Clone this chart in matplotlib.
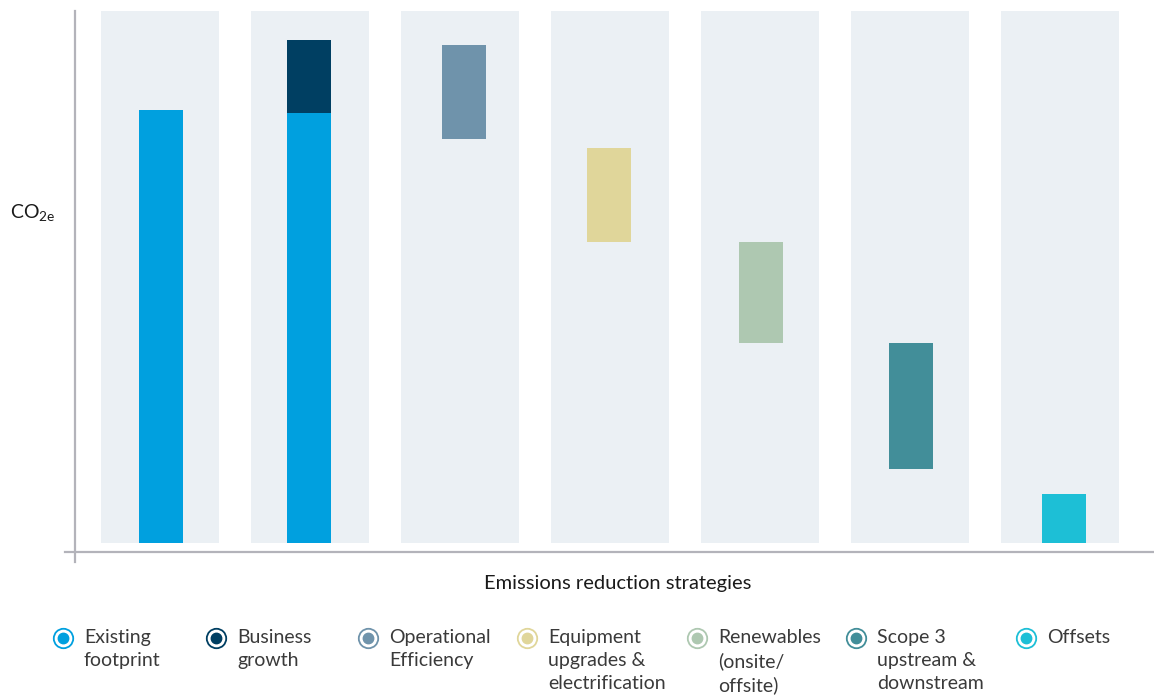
import numpy as np
import matplotlib.pyplot as plt
from matplotlib.lines import Line2D

plt.rcParams['font.family'] = ['Lato', 'DejaVu Sans']

# categories and floating bar extents (arbitrary CO2e units)
labels = ["Existing\nfootprint", "Business\ngrowth", "Operational\nEfficiency",
          "Equipment\nupgrades &\nelectrification", "Renewables\n(onsite/\noffsite)",
          "Scope 3\nupstream &\ndownstream", "Offsets"]
colors = ["#00A0DF", "#003F62", "#6F93AB", "#E0D69A", "#AEC8B1", "#428E99", "#1DBFD6"]

existing = [433, 430]          # existing footprint in bars 1 and 2
growth = 73                    # business growth on top of bar 2
bottoms = [404, 301, 200, 74, 0]   # bars 3..7
tops = [498, 395, 301, 200, 49]

fig = plt.figure(figsize=(11.54, 6.97), dpi=100)
W, H = 1154, 697
ax = fig.add_axes([75 / W, 1 - 551 / H, (W - 75) / W, (551 - 11) / H])
ax.set_xlim((75 - 160) / 150, (W - 160) / 150)
ax.set_ylim(-8, 532)
ax.axis('off')

x = np.arange(len(labels))
# background panels
ax.bar(x, 532, width=118 / 150, bottom=0, color="#EBF0F4", zorder=0)

# bars sit slightly off-centre in their panels
shift = np.array([1, -1, 4, -1, 1, 1, 4]) / 150
xb = x + shift
bw = 44 / 150
ax.bar(xb[:2], existing, width=bw, color=colors[0], zorder=2)
ax.bar(xb[1], growth, width=bw, bottom=existing[1], color=colors[1], zorder=2)
for i, (b, t) in enumerate(zip(bottoms, tops)):
    ax.bar(xb[i + 2], t - b, width=bw, bottom=b, color=colors[i + 2], zorder=2)

# axis lines
lc = "#B3B3BA"
fig.add_artist(Line2D([75 / W, 75 / W], [1 - 11 / H, 1 - 562 / H], color=lc, lw=1.6))
fig.add_artist(Line2D([65 / W, 1.0], [1 - 551.5 / H, 1 - 551.5 / H], color=lc, lw=1.6))

fig.text(618 / W, 1 - 584 / H, "Emissions reduction strategies", ha='center', va='center',
         fontsize=14.5, color="#1a1a1a")
fig.text(10 / W, 1 - 213 / H, r"CO$_{\mathregular{2e}}$", ha='left', va='center',
         fontsize=14, color="#1a1a1a")

# legend
mx = [63, 216, 368, 527, 697, 856, 1026]
for px, lab, c in zip(mx, labels, colors):
    fx = px / W
    fy = 1 - 638 / H
    fig.add_artist(Line2D([fx], [fy], marker='o', markersize=14, markerfacecolor='white',
                          markeredgecolor=c, markeredgewidth=1.3))
    fig.add_artist(Line2D([fx], [fy], marker='o', markersize=7.5, markerfacecolor=c,
                          markeredgecolor=c, lw=0))
    fig.text((px + 21) / W, 1 - 629 / H, lab, ha='left', va='top', fontsize=14,
             color="#3a3a3a", linespacing=1.42)

fig.savefig("out.png", dpi=100)
